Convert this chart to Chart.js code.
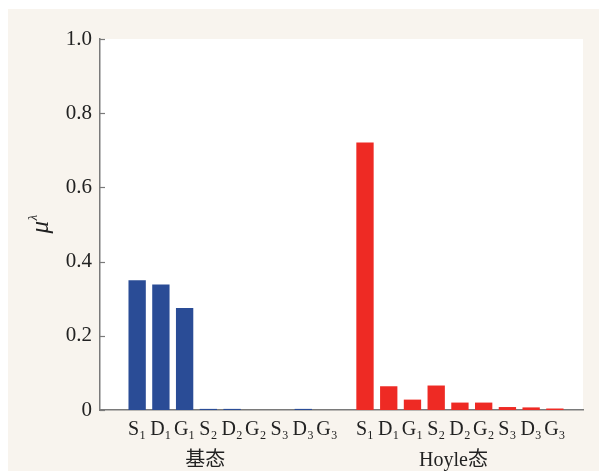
<!DOCTYPE html>
<html>
<head>
<meta charset="utf-8">
<script src="https://cdn.jsdelivr.net/npm/chart.js@4"></script>
<style>
  html, body { margin: 0; padding: 0; background: #fff; }
  #wrap { width: 599px; height: 471px; }
</style>
</head>
<body>
<div id="wrap"><canvas id="myChart" width="599" height="471"></canvas></div>
<script>
// ------------- data
const stateLabels = ['S\u2081', 'D\u2081', 'G\u2081', 'S\u2082', 'D\u2082', 'G\u2082', 'S\u2083', 'D\u2083', 'G\u2083']
const groundValues = [0.350, 0.338, 0.275, 0.003, 0.003, 0, 0, 0.003, 0]
const hoyleValues = [0.721, 0.064, 0.028, 0.066, 0.020, 0.020, 0.008, 0.007, 0.004]
const groupNames = ['基态', 'Hoyle态']
const groupStart = [1, 10.6]        // x of first bar in each group (in bar slots)
const groupLabelAt = [3.87, 14.33]  // where the group caption sits
const yTicks = [0, 0.2, 0.4, 0.6, 0.8, 1.0]
const xMax = 19.22

const serif = '"Liberation Serif", "Times New Roman", serif'
const cjk = '"Liberation Serif", "Noto Sans CJK SC", serif'

const groundPts = groundValues.map((v, i) => ({ x: groupStart[0] + i, y: v }))
const hoylePts = hoyleValues.map((v, i) => ({ x: groupStart[1] + i, y: v }))
const tickPos = groundPts.map(p => p.x).concat(hoylePts.map(p => p.x))
const tickText = stateLabels.concat(stateLabels)

const decor = {
  id: 'decor',
  beforeDraw(chart) {
    const c = chart.ctx, a = chart.chartArea
    c.save()
    c.fillStyle = '#ffffff'
    c.fillRect(0, 0, chart.width, chart.height)
    c.fillStyle = '#f8f4ee'
    c.fillRect(8, 9, chart.width - 8, chart.height - 9)
    c.fillStyle = '#ffffff'
    c.fillRect(a.left, a.top, a.right - a.left, a.bottom - a.top)
    c.restore()
  },
  afterDraw(chart) {
    const c = chart.ctx, a = chart.chartArea
    const ys = chart.scales.y, xs = chart.scales.x
    c.save()
    // inward tick marks on the y axis
    c.strokeStyle = '#7a7a7a'
    c.lineWidth = 1.2
    yTicks.forEach(t => {
      const py = Math.round(ys.getPixelForValue(t)) + 0.5
      c.beginPath()
      c.moveTo(a.left, py)
      c.lineTo(a.left + 5, py)
      c.stroke()
    })
    // group captions
    c.fillStyle = '#222'
    c.font = '20px ' + cjk
    c.textAlign = 'center'
    c.textBaseline = 'middle'
    groupNames.forEach((g, i) => {
      c.fillText(g, xs.getPixelForValue(groupLabelAt[i]), 461)
    })
    // y axis title  mu^lambda
    c.translate(48, (a.top + a.bottom) / 2)
    c.rotate(-Math.PI / 2)
    c.textAlign = 'left'
    c.textBaseline = 'alphabetic'
    c.font = 'italic 25px ' + serif
    c.fillText('\u03bc', -9, 0)
    c.font = 'italic 13px ' + serif
    c.fillText('\u03bb', 4, -11)
    c.restore()
  }
}

const ctx = document.getElementById('myChart').getContext('2d')
Graph = new Chart(ctx, {
  type: 'bar',
  data: {
    datasets: [{
      label: '基态',
      data: groundPts,
      backgroundColor: '#2a4c96',
      borderWidth: 0
    }, {
      label: 'Hoyle态',
      data: hoylePts,
      backgroundColor: '#ee2a24',
      borderWidth: 0
    }]
  },
  options: {
    responsive: false,
    animation: false,
    grouped: false,
    barPercentage: 0.73,
    categoryPercentage: 1,
    layout: { padding: { left: 0, right: 16, top: 39, bottom: 0 } },
    plugins: {
      legend: { display: false },
      tooltip: { enabled: false }
    },
    scales: {
      x: {
        type: 'linear',
        min: 0,
        max: xMax,
        afterBuildTicks: s => { s.ticks = tickPos.map(v => ({ value: v })) },
        afterFit: s => { s.height = 61 },
        grid: { display: false, drawTicks: false },
        border: { display: true, color: '#7a7a7a', width: 1.5 },
        ticks: {
          autoSkip: false,
          maxRotation: 0,
          padding: 8,
          color: '#222',
          font: { family: serif, size: 20 },
          callback: (v, i) => tickText[i]
        }
      },
      y: {
        min: 0,
        max: 1,
        afterBuildTicks: s => { s.ticks = yTicks.map(v => ({ value: v })) },
        afterFit: s => { s.width = 100 },
        grid: { display: false, drawTicks: false },
        border: { display: true, color: '#7a7a7a', width: 1.5 },
        ticks: {
          padding: 8,
          color: '#222',
          font: { family: serif, size: 21 },
          callback: v => v === 0 ? '0' : v.toFixed(1)
        }
      }
    }
  },
  plugins: [decor]
})
</script>
</body>
</html>
